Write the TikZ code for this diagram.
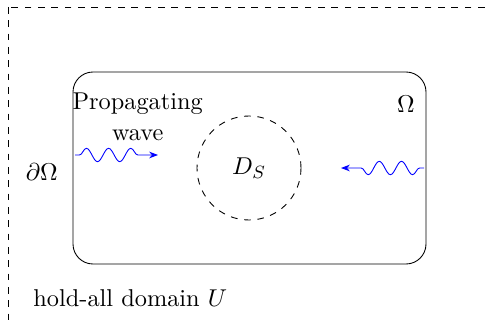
\documentclass[tikz,border=0pt]{standalone}
\usetikzlibrary{decorations.pathmorphing,arrows.meta}
\begin{document}
\begin{tikzpicture}[x=0.45pt,y=-0.45pt,
  every node/.style={font=\fontsize{10.95}{13.6}\selectfont, inner sep=0pt},
  wave/.style={blue, decorate, decoration={snake, amplitude=3pt, segment length=10pt, pre length=2pt, post length=5pt}, -{Stealth[length=4pt]}},
  framebox/.style={draw, rounded corners=9pt, minimum width=158.85pt, minimum height=86.4pt},
  obstacle/.style={draw, dashed, circle, minimum size=46.8pt}
]
\useasboundingbox (0,0) rectangle (486,326);
\clip (0,0) rectangle (486,326);
% hold-all domain
\coordinate (ul) at (8,7);
\coordinate (lr) at (620,420);
\draw[dashed] (ul) rectangle (lr);
% Omega
\node[framebox] (omega) at (249.5,168) {};
\node[obstacle] (ds) at (249,168) {$D_S$};
\node[anchor=base] (omlabel) at (406,113) {$\Omega$};
\node[anchor=base] (bdlabel) at (41.7,180) {$\partial\Omega$};
\node[align=center, anchor=base] (prop) at (137.7,140) {Propagating\\wave};
\node[anchor=base west] (hold) at (33,306) {hold-all domain $U$};
% waves
\coordinate (w1s) at (75,155);
\coordinate (w1e) at (158,155);
\coordinate (w2s) at (424,168);
\coordinate (w2e) at (341,168);
\draw[wave] (w1s) -- (w1e);
\draw[wave] (w2s) -- (w2e);
\end{tikzpicture}
\end{document}
